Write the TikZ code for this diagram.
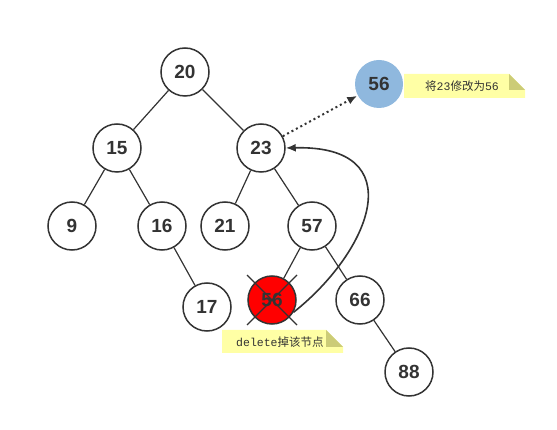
\documentclass[tikz,border=0pt]{standalone}
\usepackage{fontspec}
\setmainfont{Liberation Sans}
\newfontfamily\monof{Liberation Mono}
\newfontfamily\cjkf{Noto Sans CJK SC}
\usetikzlibrary{arrows.meta}
\definecolor{txt}{HTML}{333333}
\definecolor{notey}{HTML}{FFFFA5}
\definecolor{notef}{HTML}{CCCC77}
\definecolor{blue56}{HTML}{8FB8DE}
\begin{document}
\begin{tikzpicture}[x=1pt,y=-1pt,
  tn/.style={circle,draw=txt,line width=1.5pt,fill=white,minimum size=48pt,inner sep=0pt,
    font=\fontsize{19}{20}\selectfont\bfseries,text=txt},
  edge/.style={draw=txt,line width=1.2pt},
  arr/.style={-{Latex[length=10pt,width=8pt]},draw=txt,line width=1.6pt},
  notetext/.style={font=\fontsize{11.5}{13}\selectfont,text=txt,anchor=west,inner sep=0pt}]
\useasboundingbox (0,0) rectangle (557,430);
% nodes
\node[tn] (a20) at (185,72) {20};
\node[tn] (a15) at (117,148) {15};
\node[tn] (a23) at (261,148) {23};
\node[tn] (a9) at (72,226) {9};
\node[tn] (a16) at (162,226) {16};
\node[tn] (a21) at (225,226) {21};
\node[tn] (a57) at (312,226) {57};
\node[tn] (a17) at (207,307) {17};
\node[tn,fill=red] (a56) at (272,300) {56};
\node[tn] (a66) at (360,300) {66};
\node[tn] (a88) at (409,372) {88};
\node[tn,draw=none,fill=blue56] (b56) at (379,84) {56};
% edges
\draw[edge] (a20) -- (a15);
\draw[edge] (a20) -- (a23);
\draw[edge] (a15) -- (a9);
\draw[edge] (a15) -- (a16);
\draw[edge] (a23) -- (a21);
\draw[edge] (a23) -- (a57);
\draw[edge] (a16) -- (a17);
\draw[edge] (a57) -- (a56);
\draw[edge] (a57) -- (a66);
\draw[edge] (a66) -- (a88);
% cross
\coordinate (c1) at (247,275);
\coordinate (c2) at (297,325);
\coordinate (c3) at (297,275);
\coordinate (c4) at (247,325);
\draw[edge] (c1) -- (c2);
\draw[edge] (c3) -- (c4);
% arrows
\draw[arr,line width=2pt,dash pattern=on 2pt off 3pt] (a23) -- (b56);
\draw[arr] (a56.-30) .. controls (372,250) and (412,145) .. (a23.east);
% notes
\fill[notey] (404,74) -- (509,74) -- (525,90) -- (525,98) -- (404,98) -- cycle;
\fill[notef] (509,74) -- (509,90) -- (525,90) -- cycle;
\fill[notey] (222,330) -- (326,330) -- (343,347) -- (343,353) -- (222,353) -- cycle;
\fill[notef] (326,330) -- (326,347) -- (343,347) -- cycle;
\node[notetext] (n1) at (425,86) {\cjkf 将\monof 23\cjkf 修改为\monof 56};
\node[notetext] (n2) at (236,342) {\monof delete\cjkf 掉该节点};
\end{tikzpicture}
\end{document}
